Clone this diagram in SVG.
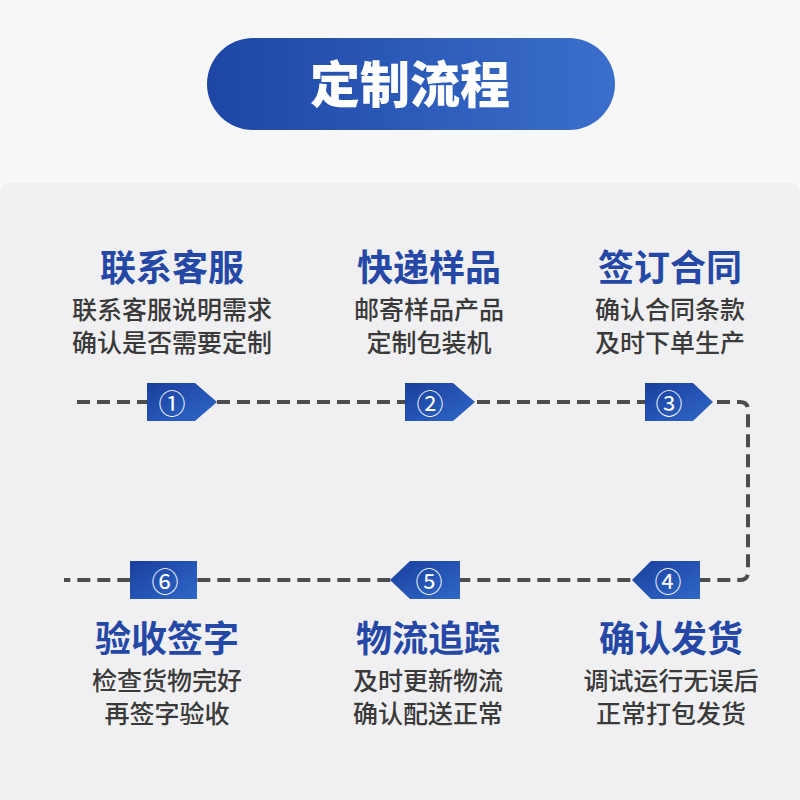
<svg xmlns="http://www.w3.org/2000/svg" width="800" height="800" viewBox="0 0 800 800">
<defs>
<linearGradient id="pill" x1="0" y1="0" x2="1" y2="0">
<stop offset="0" stop-color="#1d46a6"/>
<stop offset="1" stop-color="#3b6fcc"/>
</linearGradient>
<linearGradient id="badge" x1="0" y1="0" x2="1" y2="1">
<stop offset="0" stop-color="#1a3f9e"/>
<stop offset="1" stop-color="#2f68c8"/>
</linearGradient>
</defs>
<style>
.h{font-family:"Noto Sans CJK SC","Noto Sans",sans-serif;font-weight:700;font-size:36px;fill:#2548a6;text-anchor:middle}
.s{font-family:"Noto Sans CJK SC","Noto Sans",sans-serif;font-weight:500;font-size:25px;fill:#3a3a3a;text-anchor:middle}
.n{font-family:"Noto Sans CJK SC","DejaVu Sans",sans-serif;font-size:27px;fill:#ffffff;text-anchor:middle;dominant-baseline:central}
.b{fill:url(#badge)}
.c{fill:none;stroke:#4d4d4f;stroke-width:4;stroke-dasharray:13 7}
</style>
<rect x="0" y="0" width="800" height="800" fill="#f7f7f7"/>
<rect x="0" y="183" width="800" height="640" rx="10" fill="#f0f0f2"/>
<g id="title">
<rect x="207" y="38" width="408" height="92" rx="46" fill="url(#pill)"/>
<text x="410" y="103" font-family="'Noto Sans CJK SC','Noto Sans',sans-serif" font-weight="900" font-size="50" fill="#ffffff" text-anchor="middle">定制流程</text>
</g>
<g id="connectors">
<path class="c" d="M77 402 H740 Q748 402 748 410 V572 Q748 580 740 580 H64"/>
</g>
<g id="step1">
<path class="b" d="M147 383 H195 L217 402 L195 421 H147 Z"/>
<text class="n" x="172" y="402">①</text>
<text class="h" x="172" y="281">联系客服</text>
<text class="s" x="172" y="319">联系客服说明需求</text>
<text class="s" x="172" y="352">确认是否需要定制</text>
</g>
<g id="step2">
<path class="b" d="M405 383 H453 L475 402 L453 421 H405 Z"/>
<text class="n" x="430" y="402">②</text>
<text class="h" x="429" y="281">快递样品</text>
<text class="s" x="429" y="319">邮寄样品产品</text>
<text class="s" x="429" y="352">定制包装机</text>
</g>
<g id="step3">
<path class="b" d="M645 383 H693 L713 402 L693 421 H645 Z"/>
<text class="n" x="669" y="402">③</text>
<text class="h" x="670" y="281">签订合同</text>
<text class="s" x="670" y="319">确认合同条款</text>
<text class="s" x="670" y="352">及时下单生产</text>
</g>
<g id="step4">
<path class="b" d="M700 561 H651 L632 580 L651 599 H700 Z"/>
<text class="n" x="668" y="580">④</text>
<text class="h" x="671" y="652">确认发货</text>
<text class="s" x="671" y="690">调试运行无误后</text>
<text class="s" x="671" y="723">正常打包发货</text>
</g>
<g id="step5">
<path class="b" d="M460 561 H410 L390 580 L410 599 H460 Z"/>
<text class="n" x="429" y="580">⑤</text>
<text class="h" x="428" y="652">物流追踪</text>
<text class="s" x="428" y="690">及时更新物流</text>
<text class="s" x="428" y="723">确认配送正常</text>
</g>
<g id="step6">
<rect class="b" x="130" y="561" width="67" height="38"/>
<text class="n" x="165" y="580">⑥</text>
<text class="h" x="167" y="652">验收签字</text>
<text class="s" x="167" y="690">检查货物完好</text>
<text class="s" x="167" y="723">再签字验收</text>
</g>
</svg>
